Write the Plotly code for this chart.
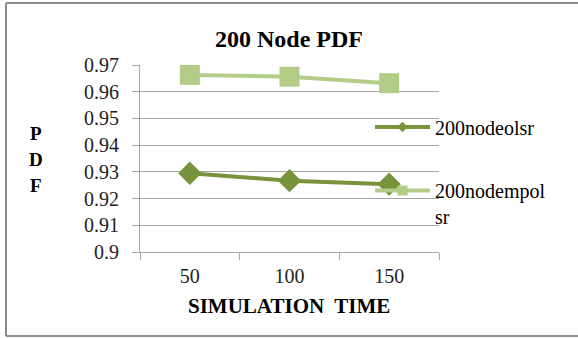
import plotly.graph_objects as go

# ---- data ----
categories = ["50", "100", "150"]
olsr_pdf = [0.9295, 0.9267, 0.9254]
mpolsr_pdf = [0.9663, 0.9656, 0.9632]
series_names = ["200nodeolsr", "200nodempol<br>sr"]
y_tick_vals = [0.9, 0.91, 0.92, 0.93, 0.94, 0.95, 0.96, 0.97]
y_tick_text = ["0.9", "0.91", "0.92", "0.93", "0.94", "0.95", "0.96", "0.97"]
title_text = "200 Node PDF"
x_title = "SIMULATION  TIME"
y_title_letters = ["P", "D", "F"]

# ---- layout constants ----
W, H = 578, 338
L, R, T, B = 140, 139, 65, 86
PW, PH = W - L - R, H - T - B
FONT = "Liberation Serif, Times New Roman, Tinos, DejaVu Serif, serif"
DARK = "#77933C"
LIGHT = "#B3CD88"
GRID = "#A6A6A6"


def px(x):
    return (x - L) / PW


def py(y):
    return (H - B - y) / PH


fig = go.Figure()

fig.add_trace(go.Scatter(
    x=categories, y=mpolsr_pdf, mode="lines+markers", showlegend=False,
    line=dict(color=LIGHT, width=4),
    marker=dict(symbol="square", size=20, color=LIGHT),
    cliponaxis=False))
fig.add_trace(go.Scatter(
    x=categories, y=olsr_pdf, mode="lines+markers", showlegend=False,
    line=dict(color=DARK, width=4),
    marker=dict(symbol="diamond", size=18, color=DARK),
    cliponaxis=False))

# legend entries
fig.add_trace(go.Scatter(
    x=[None], y=[None], mode="lines+markers", name=series_names[0], legend="legend",
    line=dict(color=DARK, width=4), marker=dict(symbol="diamond", size=8, color=DARK)))
fig.add_trace(go.Scatter(
    x=[None], y=[None], mode="lines+markers", name=series_names[1], legend="legend2",
    line=dict(color=LIGHT, width=4), marker=dict(symbol="square", size=10, color=LIGHT)))

legend_common = dict(font=dict(family=FONT, size=20, color="#000"),
                     bgcolor="rgba(0,0,0,0)", itemwidth=55, xanchor="left",
                     itemclick=False, itemdoubleclick=False)

fig.update_layout(
    width=W, height=H,
    margin=dict(l=L, r=R, t=T, b=B, pad=0),
    paper_bgcolor="white", plot_bgcolor="white",
    font=dict(family=FONT, color="#000"),
    showlegend=True,
    legend=dict(**legend_common, x=px(370), y=py(127), yanchor="middle"),
    legend2=dict(**legend_common, x=px(370), y=py(171), yanchor="top", valign="top"),
    xaxis=dict(
        type="category", range=[-0.5, 2.5], tickson="boundaries",
        ticks="outside", ticklen=7, tickcolor=GRID, tickwidth=1,
        showline=True, linecolor=GRID, linewidth=1, showgrid=False,
        tickfont=dict(family=FONT, size=20, color="#222"),
        ticklabelstandoff=6, zeroline=False),
    yaxis=dict(
        range=[0.9, 0.97], tickvals=y_tick_vals, ticktext=y_tick_text,
        ticks="outside", ticklen=7, tickcolor=GRID, tickwidth=1,
        showline=True, linecolor=GRID, linewidth=1,
        showgrid=True, gridcolor=GRID, gridwidth=1, zeroline=False,
        tickfont=dict(family=FONT, size=20, color="#222"),
        ticklabelstandoff=9),
)

annotations = [
    dict(text="<b>%s</b>" % title_text, x=px(289), y=py(39), xref="paper", yref="paper",
         showarrow=False, font=dict(family=FONT, size=24, color="#000"),
         xanchor="center", yanchor="middle"),
    dict(text="<b>%s</b>" % x_title, x=px(289), y=py(306), xref="paper", yref="paper",
         showarrow=False, font=dict(family=FONT, size=21, color="#000"),
         xanchor="center", yanchor="middle"),
]
for i, letter in enumerate(y_title_letters):
    annotations.append(dict(
        text="<b>%s</b>" % letter, x=px(36), y=py(133 + 26 * i), xref="paper", yref="paper",
        showarrow=False, font=dict(family=FONT, size=19, color="#000"),
        xanchor="center", yanchor="middle"))
fig.update_layout(annotations=annotations)

# outer frame: left, top and bottom edges (right edge lies outside the picture)
frame = dict(color="#8C8C8C", width=2)
bx0, bx1, by_top, by_bot = px(6), px(590), py(3), py(336)
fig.add_shape(type="line", xref="paper", yref="paper", x0=bx0, x1=bx0, y0=by_bot, y1=by_top, line=frame)
fig.add_shape(type="line", xref="paper", yref="paper", x0=bx0, x1=bx1, y0=by_top, y1=by_top, line=frame)
fig.add_shape(type="line", xref="paper", yref="paper", x0=bx0, x1=bx1, y0=by_bot, y1=by_bot, line=frame)

fig.write_html("out.html")
